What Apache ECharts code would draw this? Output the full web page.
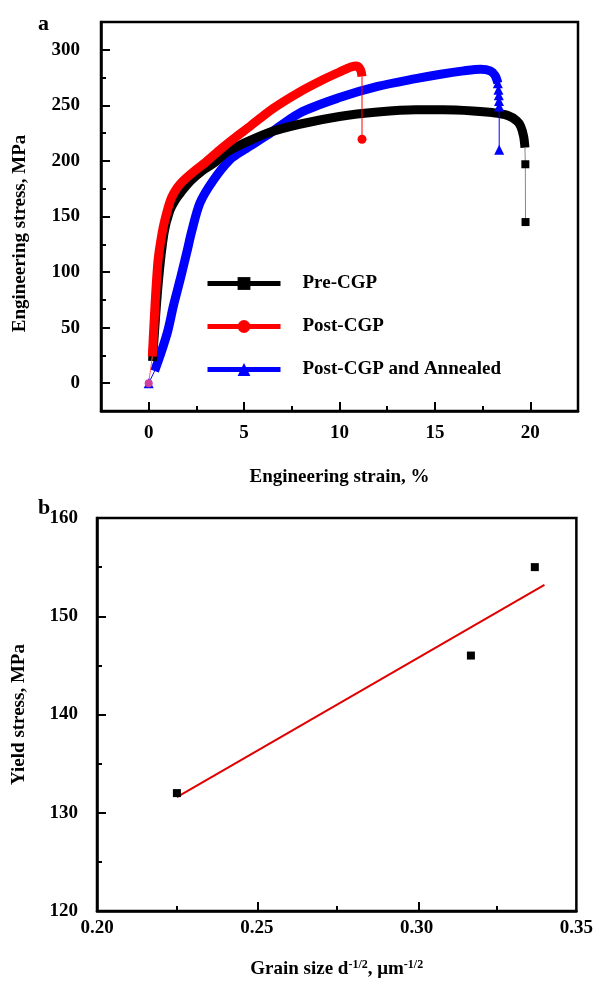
<!DOCTYPE html>
<html>
<head>
<meta charset="utf-8">
<script src="https://cdn.jsdelivr.net/npm/echarts@6/dist/echarts.min.js"></script>
<style>
  html, body { margin: 0; padding: 0; background: #fff; }
  #chart { width: 596px; height: 982px; }
</style>
</head>
<body>
<div id="chart"></div>
<script>
// (a) engineering stress-strain curves, strain in %, stress in MPa
const preStrain = [0.2, 0.5, 0.8, 1.1, 1.4, 1.7, 2.2, 2.8, 3.5, 4.1, 5.0, 6.2, 7.9, 10.0, 12.0, 14.0, 15.4, 17.0, 18.0, 18.8, 19.3, 19.5, 19.65, 19.72]
const preStress = [20, 90, 135, 155, 165, 172, 182, 191, 199, 208, 216, 225, 233, 240, 244, 246, 246, 245, 243.5, 241, 236, 231, 222, 212]
const preTailStrain = [19.72, 19.74, 19.75]
const preTailStress = [212, 197, 145]

const postStrain = [0.19, 0.47, 0.7, 0.94, 1.2, 1.5, 1.8, 2.4, 3.0, 3.8, 4.6, 5.3, 6.5, 7.9, 9.0, 10.0, 10.6, 10.9, 11.1, 11.18]
const postStress = [24, 107, 135, 153, 167, 176, 182, 191, 199, 211, 222, 231, 247, 262, 272, 280, 284.5, 285.5, 282, 276]
const postTailStrain = [11.18, 11.18]
const postTailStress = [276, 219.5]

const annStrain = [0.31, 0.6, 1.0, 1.3, 1.63, 2.0, 2.26, 2.68, 3.36, 4.25, 5.0, 6.2, 7.9, 10.0, 12.0, 14.0, 15.3, 16.5, 17.4, 17.9, 18.15, 18.3]
const annStress = [11, 25, 47, 70, 92, 118, 137, 162, 182, 201, 210, 223, 243, 257, 267, 274, 278, 281, 282.5, 281, 277, 270]
const annTailStrain = [18.3, 18.33, 18.35, 18.36, 18.37, 18.37]
const annTailStress = [270, 264, 259, 254, 249, 210]

const legendNames = ['Pre-CGP', 'Post-CGP', 'Post-CGP and Annealed']

// (b) yield stress vs grain size
const grainSize = [0.225, 0.317, 0.337]
const yieldStress = [132, 146, 155]
const fitX = [0.225, 0.340]
const fitY = [131.6, 153.2]

// ticks
const xTicksA = [0, 5, 10, 15, 20]
const xMinorA = [2.5, 7.5, 12.5, 17.5]
const yTicksA = [0, 50, 100, 150, 200, 250, 300]
const yMinorA = [25, 75, 125, 175, 225, 275]
const xTicksB = [0.2, 0.25, 0.3, 0.35]
const xMinorB = [0.225, 0.275, 0.325]
const yTicksB = [120, 130, 140, 150, 160]
const yMinorB = [125, 135, 145, 155]

const FONT = "'Liberation Serif', 'Times New Roman', serif"
const txt = { fontFamily: FONT, fontWeight: 'bold', fontSize: 19, color: '#000' }

const zip = (xs, ys) => xs.map((x, i) => [x, ys[i]])

// data axis: line, labels and name
function mainAxis(grid, min, max, labels, opts) {
  return Object.assign({
    type: 'value', gridIndex: grid, min: min, max: max,
    axisLine: { show: true, onZero: false, lineStyle: { color: '#000', width: 2.5 } },
    axisTick: { show: false },
    axisLabel: Object.assign({ customValues: labels }, txt),
    splitLine: { show: false }
  }, opts)
}

// overlay axis for the short inward ticks
function tickAxis(grid, min, max, ticks, pos, len) {
  return {
    type: 'value', gridIndex: grid, min: min, max: max, position: pos,
    axisLine: { show: false, onZero: false },
    axisTick: { show: true, inside: true, length: len, customValues: ticks, lineStyle: { color: '#000', width: 2 } },
    axisLabel: { show: false },
    splitLine: { show: false }
  }
}

// long ticks: split lines of a thin strip grid that spans first..last labelled value
function stripAxis(grid, min, max, interval) {
  return {
    type: 'value', gridIndex: grid, min: min, max: max, interval: interval,
    axisLine: { show: false }, axisTick: { show: false }, axisLabel: { show: false },
    splitLine: { show: true, lineStyle: { color: '#000', width: 2 } }
  }
}
function blankAxis(grid) {
  return { type: 'value', gridIndex: grid, min: 0, max: 1, show: false }
}

const chart = echarts.init(document.getElementById('chart'))

chart.setOption({
  animation: false,
  backgroundColor: '#fff',
  title: [
    { text: 'a', left: 33, top: 8, textStyle: { fontFamily: FONT, fontWeight: 'bold', fontSize: 22, color: '#000' } },
    { text: 'b', left: 33, top: 492, textStyle: { fontFamily: FONT, fontWeight: 'bold', fontSize: 22, color: '#000' } }
  ],
  grid: [
    { left: 101, top: 22, right: 18, bottom: 571, show: true, borderColor: '#000', borderWidth: 2.5 },
    { left: 97, top: 518, right: 17, bottom: 71, show: true, borderColor: '#000', borderWidth: 2.5 },
    // tick strips
    { left: 101, right: 486, top: 49.8, bottom: 598.8 },
    { left: 148.7, right: 65.7, top: 402, bottom: 571 },
    { left: 97, right: 490, top: 616.25, bottom: 169.25 },
    { left: 257.67, right: 177.67, top: 902, bottom: 71 }
  ],
  legend: {
    orient: 'vertical', left: 205, top: 274, padding: 0,
    itemWidth: 73, itemHeight: 16, itemGap: 24,
    textStyle: Object.assign({ padding: [0, 0, 0, 17] }, txt),
    data: [
      { name: legendNames[0], lineStyle: { width: 5, color: '#000' }, itemStyle: { color: '#000' } },
      { name: legendNames[1], lineStyle: { width: 5, color: '#ff0000' }, itemStyle: { color: '#ff0000' } },
      { name: legendNames[2], lineStyle: { width: 5, color: '#0000ff' }, itemStyle: { color: '#0000ff' } }
    ]
  },
  xAxis: [
    mainAxis(0, -2.5, 22.5, xTicksA, {
      position: 'bottom',
      axisLabel: Object.assign({ customValues: xTicksA, margin: 13 }, txt),
      name: 'Engineering strain, %', nameLocation: 'middle', nameGap: 57, nameTextStyle: txt
    }),
    mainAxis(1, 0.2, 0.35, xTicksB, {
      position: 'bottom',
      axisLabel: Object.assign({ customValues: xTicksB, margin: 8, formatter: v => v.toFixed(2) }, txt),
      name: '{t|Grain size d}{s|-1/2}{t|, \u03bcm}{s|-1/2}', nameLocation: 'middle', nameGap: 48,
      nameTextStyle: {
        rich: {
          t: txt,
          s: { fontFamily: FONT, fontWeight: 'bold', fontSize: 12, color: '#000', verticalAlign: 'top', padding: [0, 0, 8, 0] }
        }
      }
    }),
    tickAxis(0, -2.5, 22.5, xMinorA, 'bottom', 5),
    tickAxis(1, 0.2, 0.35, xMinorB, 'bottom', 5),
    blankAxis(2),
    stripAxis(3, xTicksA[0], xTicksA[xTicksA.length - 1], 5),
    blankAxis(4),
    stripAxis(5, xTicksB[1], xTicksB[2], 0.05)
  ],
  yAxis: [
    mainAxis(0, -25, 325, yTicksA, {
      position: 'left',
      axisLabel: Object.assign({ customValues: yTicksA, margin: 21 }, txt),
      name: 'Engineering stress, MPa', nameLocation: 'middle', nameGap: 71, nameRotate: 90,
      nameTextStyle: Object.assign({ padding: [0, 34, 0, 0] }, txt)
    }),
    mainAxis(1, 120, 160, yTicksB, {
      position: 'left',
      axisLabel: Object.assign({ customValues: yTicksB, margin: 19 }, txt),
      name: 'Yield stress, MPa', nameLocation: 'middle', nameGap: 68, nameRotate: 90,
      nameTextStyle: txt
    }),
    tickAxis(0, -25, 325, yMinorA, 'left', 5),
    tickAxis(1, 120, 160, yMinorB, 'left', 5),
    stripAxis(2, yTicksA[0], yTicksA[yTicksA.length - 1], 50),
    blankAxis(3),
    stripAxis(4, yTicksB[1], yTicksB[3], 10),
    blankAxis(5)
  ],
  series: [
    // thick bands (first series per name drives the legend icon)
    { name: legendNames[2], type: 'line', xAxisIndex: 0, yAxisIndex: 0, z: 2,
      symbol: 'triangle', showSymbol: false, smooth: 0.3,
      lineStyle: { color: '#0000ff', width: 9 }, itemStyle: { color: '#0000ff' },
      data: zip(annStrain, annStress) },
    { name: legendNames[0], type: 'line', xAxisIndex: 0, yAxisIndex: 0, z: 3,
      symbol: 'rect', showSymbol: false, smooth: 0.3,
      lineStyle: { color: '#000', width: 9 }, itemStyle: { color: '#000' },
      data: zip(preStrain, preStress) },
    { name: legendNames[1], type: 'line', xAxisIndex: 0, yAxisIndex: 0, z: 4,
      symbol: 'circle', showSymbol: false, smooth: 0.3,
      lineStyle: { color: '#ff0000', width: 9 }, itemStyle: { color: '#ff0000' },
      data: zip(postStrain, postStress) },
    // start segments
    { name: legendNames[2], type: 'line', xAxisIndex: 0, yAxisIndex: 0, z: 5,
      symbol: 'triangle', symbolSize: 10,
      lineStyle: { color: '#0000ff', width: 1 }, itemStyle: { color: '#0000ff' },
      data: [{ value: [0, 0] }, { value: [annStrain[0], annStress[0]], symbol: 'none' }] },
    { name: legendNames[1], type: 'line', xAxisIndex: 0, yAxisIndex: 0, z: 5,
      symbol: 'circle', symbolSize: 8,
      lineStyle: { color: '#ff6060', width: 1 }, itemStyle: { color: '#d040a0' },
      data: [{ value: [0, 0] }, { value: [postStrain[0], postStress[0]], symbol: 'none' }] },
    // fracture tails
    { name: legendNames[0], type: 'line', xAxisIndex: 0, yAxisIndex: 0, z: 5,
      symbol: 'rect', symbolSize: 8,
      lineStyle: { color: '#888', width: 1 }, itemStyle: { color: '#000' },
      data: zip(preTailStrain, preTailStress).map((p, i) => i === 0 ? { value: p, symbol: 'none' } : { value: p }) },
    { name: legendNames[1], type: 'line', xAxisIndex: 0, yAxisIndex: 0, z: 5,
      symbol: 'circle', symbolSize: 9,
      lineStyle: { color: '#ff0000', width: 1 }, itemStyle: { color: '#ff0000' },
      data: zip(postTailStrain, postTailStress).map((p, i) => i === 0 ? { value: p, symbol: 'none' } : { value: p }) },
    { name: legendNames[2], type: 'line', xAxisIndex: 0, yAxisIndex: 0, z: 5,
      symbol: 'triangle', symbolSize: 10,
      lineStyle: { color: '#0000ff', width: 1 }, itemStyle: { color: '#0000ff' },
      data: zip(annTailStrain, annTailStress) },
    // (b)
    { name: 'fit', type: 'line', xAxisIndex: 1, yAxisIndex: 1, z: 3,
      symbol: 'none', lineStyle: { color: '#e00000', width: 2 },
      data: zip(fitX, fitY) },
    { name: 'yield', type: 'scatter', xAxisIndex: 1, yAxisIndex: 1, z: 4,
      symbol: 'rect', symbolSize: 8, itemStyle: { color: '#000', opacity: 1 },
      data: zip(grainSize, yieldStress) }
  ]
})
</script>
</body>
</html>
